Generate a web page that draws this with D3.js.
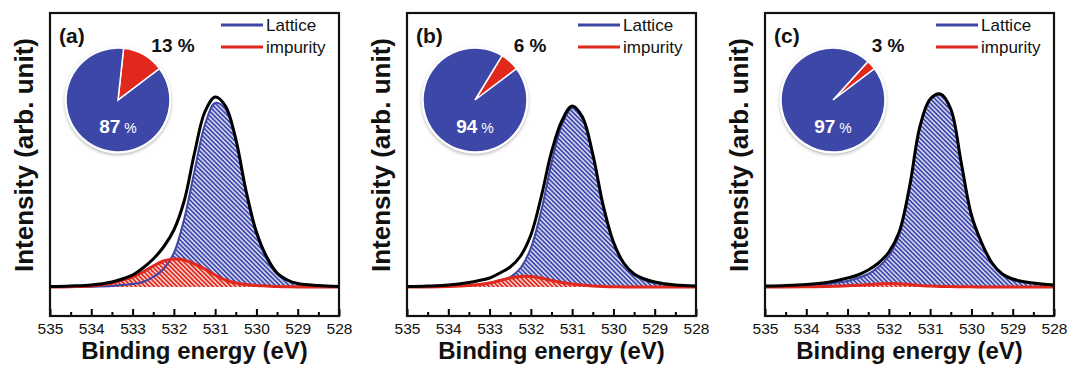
<html>
<head>
<title>O 1s XPS</title>
<script src="https://d3js.org/d3.v7.min.js"></script>
<style>
body { margin: 0; background: white; }
text { font-family: "Liberation Sans", Arial, sans-serif; }
</style>
</head>
<body>
<svg width="1069" height="372"></svg>
<script>
// binding energy grid (eV)
var energy = [535, 534.5, 534, 533.5, 533.25, 533, 532.75, 532.5, 532.25, 532, 531.75, 531.5,
              531.25, 531, 530.75, 530.5, 530.25, 530, 529.75, 529.5, 529.25, 529, 528.5, 528];

// intensities (arb. unit)
var envelopeA = [0.5, 1, 2, 5, 8, 12, 19, 28, 40, 57, 86, 134, 175, 190, 181, 148, 96, 55, 30, 14, 7, 3.5, 1.5, 0.5];
var latticeA  = [0, 0, 0.3, 1, 2, 3, 5, 10, 18, 34, 68, 116, 162, 184, 178, 146, 94, 53, 28, 13, 6.5, 3, 1, 0.3];
var impurityA = [0, 0.3, 1, 4, 7, 10, 15, 21, 26, 28, 27, 23, 18, 12, 7, 4, 2.5, 1.5, 1, 0.5, 0.3, 0, 0, 0];

var envelopeB = [0.5, 1, 2, 4.5, 6.5, 9, 14, 20, 31, 52, 90, 135, 166, 181, 170, 133, 82, 45, 24, 13, 8, 5, 2, 1];
var latticeB  = [0, 0.3, 0.7, 1.5, 2.5, 4, 6.5, 10, 19, 39, 76, 124, 162, 179, 168, 131, 80, 44, 23, 12, 7, 4, 1.5, 0.5];
var impurityB = [0, 0, 0.5, 1.5, 2.5, 4, 6.5, 9, 10.5, 10.5, 9, 6.5, 4.5, 3, 2, 1, 0.5, 0.3, 0, 0, 0, 0, 0, 0];

var envelopeC = [1, 1.5, 2.5, 4.5, 6.5, 9, 12, 17, 24, 35, 55, 100, 160, 188, 193, 178, 125, 72, 44, 24, 13, 8, 4, 2];
var latticeC  = [0.5, 1, 1.5, 3, 4.5, 6, 9, 13, 20, 31, 52, 98, 159, 187, 192, 177, 124, 71, 43, 23, 12, 7, 3.5, 1.5];
var impurityC = [0, 0, 0.2, 0.5, 0.8, 1.2, 1.8, 2.5, 3, 3.5, 3.3, 2.5, 1.5, 1, 0.6, 0.4, 0.3, 0.2, 0, 0, 0, 0, 0, 0];

var panelLabels = ["(a)", "(b)", "(c)"];
var latticePct = [87, 94, 97];
var impurityPct = [13, 6, 3];
var xTicks = [535, 534, 533, 532, 531, 530, 529, 528];
var xMinorTicks = [534.5, 533.5, 532.5, 531.5, 530.5, 529.5, 528.5];

var envelopes = [envelopeA, envelopeB, envelopeC];
var lattices = [latticeA, latticeB, latticeC];
var impurities = [impurityA, impurityB, impurityC];

var blue = "#3d47a8", red = "#e0281c";
var svg = d3.select("svg");
var lefts = [50, 407, 765];
var plotW = 289, plotTop = 13, plotBottom = 316;

var defs = svg.append("defs");
function hatch(id, col) {
  var p = defs.append("pattern").attr("id", id)
    .attr("patternUnits", "userSpaceOnUse")
    .attr("width", 3.2).attr("height", 3.2)
    .attr("patternTransform", "rotate(-45)");
  p.append("rect").attr("width", 3.2).attr("height", 3.2).attr("fill", col);
  p.append("line").attr("x1", 0.8).attr("y1", 0).attr("x2", 0.8).attr("y2", 3.2)
    .attr("stroke", "white").attr("stroke-width", 1.2);
}
hatch("hb", "#4049ad");
hatch("hr", red);
var f = defs.append("filter").attr("id", "sh").attr("x", "-20%").attr("y", "-20%").attr("width", "140%").attr("height", "140%");
f.append("feDropShadow").attr("dx", 0).attr("dy", 1.5).attr("stdDeviation", 1.5)
  .attr("flood-color", "#888").attr("flood-opacity", 0.6);

var y = d3.scaleLinear().domain([-29, 274]).range([plotBottom, plotTop]);

lefts.forEach(function (left, i) {
  var x = d3.scaleLinear().domain([535, 528]).range([left, left + plotW]);
  var g = svg.append("g");

  function pts(vals) { return energy.map(function (e, k) { return [e, vals[k]]; }); }
  var area = d3.area().x(function (d) { return x(d[0]); }).y0(y(0)).y1(function (d) { return y(d[1]); })
    .curve(d3.curveCatmullRom);
  var line = d3.line().x(function (d) { return x(d[0]); }).y(function (d) { return y(d[1]); })
    .curve(d3.curveCatmullRom);

  g.append("path").attr("d", area(pts(lattices[i]))).attr("fill", "url(#hb)");
  g.append("path").attr("d", area(pts(impurities[i]))).attr("fill", "url(#hr)");
  g.append("path").attr("d", line(pts(lattices[i]))).attr("fill", "none")
    .attr("stroke", blue).attr("stroke-width", 2);
  g.append("path").attr("d", line(pts(impurities[i]))).attr("fill", "none")
    .attr("stroke", red).attr("stroke-width", 3);
  g.append("path").attr("d", line(pts(envelopes[i]))).attr("fill", "none")
    .attr("stroke", "black").attr("stroke-width", 3);

  // axes
  var ax = g.append("g").attr("transform", "translate(0," + plotBottom + ")")
    .call(d3.axisBottom(x).tickValues(xTicks).tickSize(-7).tickPadding(6.5).tickFormat(d3.format("d")));
  ax.select(".domain").remove();
  ax.selectAll("line").attr("stroke-width", 2);
  ax.selectAll("text").attr("font-size", "15.5px").attr("fill", "#111");
  var mx = g.append("g").attr("transform", "translate(0," + plotBottom + ")")
    .call(d3.axisBottom(x).tickValues(xMinorTicks).tickSize(-4).tickFormat(""));
  mx.select(".domain").remove();
  mx.selectAll("line").attr("stroke-width", 2);

  g.append("rect").attr("x", left).attr("y", plotTop).attr("width", plotW).attr("height", plotBottom - plotTop)
    .attr("fill", "none").attr("stroke", "#111").attr("stroke-width", 2.2);

  g.append("text").attr("x", left + plotW / 2).attr("y", 358.5).attr("text-anchor", "middle")
    .attr("font-size", "24px").attr("font-weight", "bold").attr("fill", "#111")
    .text("Binding energy (eV)");
  g.append("text").attr("transform", "translate(" + (left - 17) + ",155) rotate(-90)")
    .attr("text-anchor", "middle").attr("font-size", "26px").attr("font-weight", "bold").attr("fill", "#111")
    .text("Intensity (arb. unit)");

  g.append("text").attr("x", left + 9).attr("y", 43).attr("font-size", "21px")
    .attr("font-weight", "bold").attr("fill", "#111").text(panelLabels[i]);

  // legend
  g.append("line").attr("x1", left + 171).attr("x2", left + 213).attr("y1", 25).attr("y2", 25)
    .attr("stroke", blue).attr("stroke-width", 3);
  g.append("line").attr("x1", left + 171).attr("x2", left + 213).attr("y1", 47).attr("y2", 47)
    .attr("stroke", red).attr("stroke-width", 3);
  g.append("text").attr("x", left + 216).attr("y", 31).attr("font-size", "17px").attr("fill", "#111").text("Lattice");
  g.append("text").attr("x", left + 216).attr("y", 53).attr("font-size", "17px").attr("fill", "#111").text("impurity");

  // pie inset
  var cx = left + 68, cy = 100, r = 52;
  var a0 = (53 - impurityPct[i] * 3.6) * Math.PI / 180;
  var pie = d3.pie().sort(null).startAngle(a0).endAngle(a0 + 2 * Math.PI);
  var arc = d3.arc().innerRadius(0).outerRadius(r);
  var pg = g.append("g").attr("transform", "translate(" + cx + "," + cy + ")");
  pg.append("circle").attr("r", r + 1.5).attr("fill", "white").attr("filter", "url(#sh)");
  pg.selectAll("path").data(pie([impurityPct[i], latticePct[i]])).enter().append("path")
    .attr("d", arc).attr("fill", function (d, k) { return k == 0 ? red : blue; })
    .attr("stroke", "white").attr("stroke-width", 1.5);
  var t = pg.append("text").attr("y", 33).attr("text-anchor", "middle").attr("fill", "white")
    .attr("font-weight", "bold");
  t.append("tspan").attr("font-size", "19px").text(latticePct[i]);
  t.append("tspan").attr("font-size", "14px").attr("font-weight", "normal").text(" %");
  g.append("text").attr("x", left + 123).attr("y", 52).attr("text-anchor", "middle")
    .attr("font-size", "19px").attr("font-weight", "bold").attr("fill", "#111")
    .text(impurityPct[i] + " %");
});
</script>
</body>
</html>
